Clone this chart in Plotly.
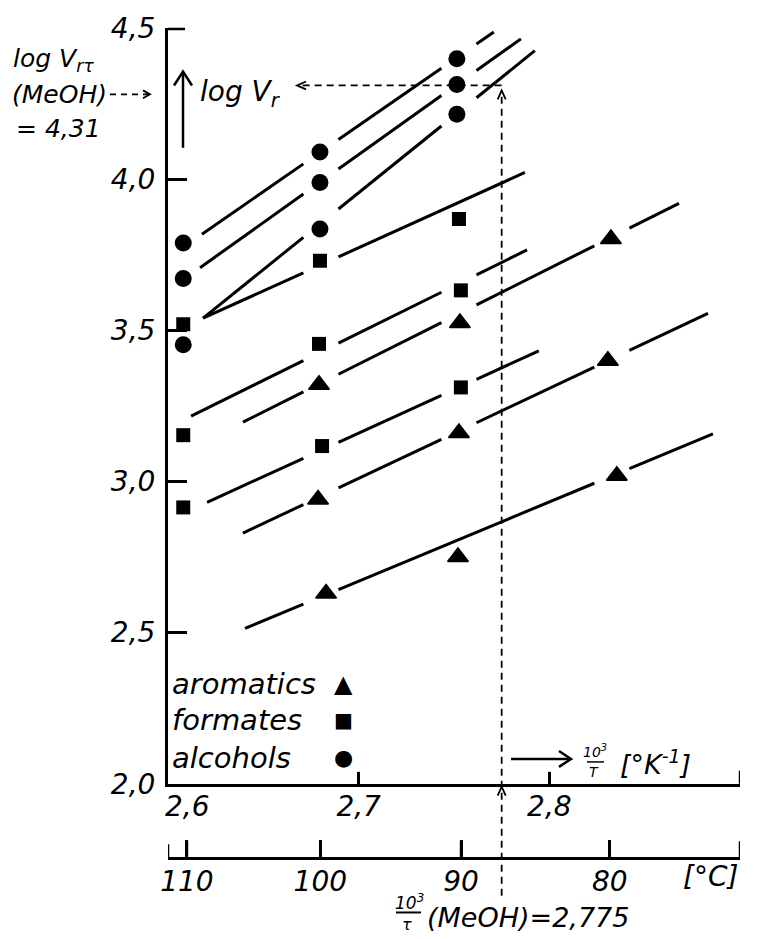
import plotly.graph_objects as go

# ---------------- data ----------------
x_ticks = [2.6, 2.7, 2.8, 2.9]                 # 10^3/T  [K^-1]
y_ticks = [2.0, 2.5, 3.0, 3.5, 4.0, 4.5]       # log Vr
temp_ticks_C = [110, 100, 90, 80]              # lower scale [°C]

# measured points (10^3/T , log Vr), one list per compound
arom_x = [[2.6792, 2.7531, 2.8323], [2.6787, 2.7526, 2.8307], [2.6829, 2.7521, 2.8354]]
arom_y = [[3.320, 3.524, 3.802], [2.940, 3.160, 3.399], [2.629, 2.750, 3.019]]

form_x = [[2.608, 2.6797, 2.7526], [2.608, 2.6792, 2.7536], [2.608, 2.6808, 2.7536]]
form_y = [[3.520, 3.730, 3.868], [3.153, 3.455, 3.632], [2.914, 3.117, 3.311]]

alc_x = [[2.608, 2.6797, 2.7515], [2.608, 2.6797, 2.7515], [2.608, 2.6797, 2.7515]]
alc_y = [[3.789, 4.090, 4.398], [3.671, 3.989, 4.313], [3.452, 3.835, 4.215]]

# straight lines drawn through the points (start / end)
fit_x0 = [2.6178, 2.6168, 2.6184, 2.6184, 2.6121, 2.6205, 2.6393, 2.6393, 2.6404]
fit_y0 = [3.818, 3.707, 3.540, 3.540, 3.216, 2.931, 3.196, 2.829, 2.514]
fit_x1 = [2.7709, 2.7851, 2.7924, 2.7872, 2.7883, 2.7945, 2.8680, 2.8832, 2.8858]
fit_y1 = [4.487, 4.464, 4.425, 4.022, 3.766, 3.432, 3.920, 3.556, 3.157]
# columns where each line is interrupted (index into break_cols)
break_cols = [2.6802, 2.7526, 2.8328]
fit_breaks = [[0, 1], [0, 1], [0, 1], [0], [0, 1], [0, 1], [0, 1, 2], [0, 1, 2], [0, 2]]

# methanol reference
meoh_x = 2.775
meoh_logV = 4.31

# ---------------- geometry helpers ----------------
L, T, W, H = 168, 20, 572, 838
FIG_W, FIG_H = 760, 939
YDOM0 = (T + H - 783) / H


def PX(x):
    return (x - L) / W


def PY(y):
    return (T + H - y) / H


def dx2paper(v):
    return (v - x_ticks[0]) / (x_ticks[-1] - x_ticks[0])


def dy2paper(v):
    return YDOM0 + (v - y_ticks[0]) / (y_ticks[-1] - y_ticks[0]) * (1 - YDOM0)


def lab(v, nd=1):
    return f"{v:.{nd}f}".replace('.', ',')


FONT = "DejaVu Sans"
fig = go.Figure()

# ---------------- lines with gaps ----------------
HW = 0.0092
for i in range(len(fit_x0)):
    x0, y0, x1, y1 = fit_x0[i], fit_y0[i], fit_x1[i], fit_y1[i]
    k = (y1 - y0) / (x1 - x0)
    xs = [x0]
    for b in fit_breaks[i]:
        c = break_cols[b]
        xs += [c - HW, None, c + HW]
    xs.append(x1)
    ys = [None if x is None else y0 + k * (x - x0) for x in xs]
    fig.add_trace(go.Scatter(x=xs, y=ys, mode='lines', connectgaps=False,
                             line=dict(color='black', width=3),
                             hoverinfo='skip', showlegend=False))

# ---------------- markers ----------------
def flat(a):
    return [v for row in a for v in row]


fig.add_trace(go.Scatter(x=flat(arom_x), y=flat(arom_y), mode='markers', name='aromatics',
                         marker=dict(symbol='triangle-up', size=18, color='black',
                                     line=dict(color='black', width=1.5)),
                         hoverinfo='skip', showlegend=False))
fig.add_trace(go.Scatter(x=flat(form_x), y=flat(form_y), mode='markers', name='formates',
                         marker=dict(symbol='square', size=14, color='black'),
                         hoverinfo='skip', showlegend=False))
fig.add_trace(go.Scatter(x=flat(alc_x), y=flat(alc_y), mode='markers', name='alcohols',
                         marker=dict(symbol='circle', size=17, color='black'),
                         hoverinfo='skip', showlegend=False))

# trace on the temperature axis so that it is drawn
temp_x = [1000.0 / (t + 273.15) for t in temp_ticks_C]
fig.add_trace(go.Scatter(x=temp_x, y=[None] * len(temp_x), xaxis='x2', yaxis='y',
                         mode='markers', marker=dict(opacity=0), hoverinfo='skip',
                         showlegend=False))

# ---------------- shapes ----------------
shapes = []


def seg(x0, y0, x1, y1, w=2, dash=None, xref='paper', yref='paper'):
    d = dict(type='line', xref=xref, yref=yref, x0=x0, y0=y0, x1=x1, y1=y1,
             line=dict(color='black', width=w))
    if dash:
        d['line']['dash'] = dash
    shapes.append(d)


def chev(tx, ty, direction, ln=9, half=5, w=2):
    # tx, ty in pixels
    if direction == 'up':
        a, b = (tx - half, ty + ln), (tx + half, ty + ln)
    elif direction == 'left':
        a, b = (tx + ln, ty - half), (tx + ln, ty + half)
    else:  # right
        a, b = (tx - ln, ty - half), (tx - ln, ty + half)
    path = f"M {PX(a[0])},{PY(a[1])} L {PX(tx)},{PY(ty)} L {PX(b[0])},{PY(b[1])}"
    shapes.append(dict(type='path', xref='paper', yref='paper', path=path,
                       line=dict(color='black', width=w)))


# tick marks of the three scales, pointing into the plot
TW = 2.5
for v in y_ticks[1:-1]:
    seg(0, v, 19 / W, v, w=TW, yref='y')
seg(0, 1 - 1 / H, 17 / W, 1 - 1 / H, w=TW)                         # 4,5 cap
for v in x_ticks[1:-1]:
    seg(v, YDOM0, v, YDOM0 + 12 / H, w=TW, xref='x')
seg(x_ticks[-1], YDOM0, x_ticks[-1], YDOM0 + 13 / H, w=TW, xref='x')  # 2,9 cap
for v in temp_x:
    seg(v, 0, v, 17 / H, w=TW, xref='x')
seg(x_ticks[0], 0, x_ticks[0], 14 / H, w=TW, xref='x')
seg(x_ticks[-1], 0, x_ticks[-1], 17 / H, w=TW, xref='x')

DASH = '7px,5px'
xm = dx2paper(meoh_x)
ym = dy2paper(meoh_logV)
ym_px = T + H - ym * H
xm_px = L + xm * W
# vertical dashed from below the °C scale to the lines
seg(xm, PY(896), xm, ym - 5 / H, w=1.8, dash=DASH)
chev(xm_px, ym_px + 5, 'up', ln=9, half=4, w=1.8)
chev(xm_px, 786, 'up', ln=9, half=4, w=1.8)
# horizontal dashed to the log Vr label
seg(xm, ym, PX(298), ym, w=1.8, dash=DASH)
chev(297, ym_px, 'left', ln=9, half=4, w=1.8)
# (MeOH) - - ->
seg(PX(110), PY(87), PX(149), PY(87), w=1.8, dash='6px,5px')
chev(150, 87, 'right', ln=7, half=4, w=1.8)
# up arrow next to log Vr
seg(PX(183), PY(141), PX(183), PY(65), w=2.5)
chev(183, 64, 'up', ln=14, half=9, w=2.5)
# right arrow next to 10^3/T
seg(PX(511), PY(758), PX(570), PY(758), w=2.5)
chev(571, 758, 'right', ln=12, half=8, w=2.5)
# fraction bars
seg(PX(587), PY(761), PX(604), PY(761), w=1.5)
seg(PX(396), PY(913), PX(421), PY(913), w=2)

# ---------------- annotations ----------------
ann = []


def txt(s, x, y, size=27, xa='left', style='italic'):
    ann.append(dict(text=s, x=PX(x), y=PY(y), xref='paper', yref='paper',
                    xanchor=xa, yanchor='middle', showarrow=False,
                    font=dict(family=FONT, size=size, color='black', style=style)))


txt("log V<sub>r\u03c4</sub>", 11, 52, 25)
txt("(MeOH)", 10, 87, 25)
txt("= " + lab(meoh_logV, 2), 14, 121, 25)
txt("log V<sub>r</sub>", 198, 86, 28)

legend_names = ['aromatics', 'formates', 'alcohols']
legend_glyph = ['\u25b2', '\u25a0', '\u25cf']
legend_gsize = [24, 20, 22]
legend_py = [682, 719, 757]
for n, g, gs, y in zip(legend_names, legend_glyph, legend_gsize, legend_py):
    txt(n, 170, y, 29)
    txt(g, 343, y, gs, xa='center', style='normal')

# first label of the 10^3/T scale sits right of the corner
txt(lab(x_ticks[0]), 187, 806, 28, xa='center')
txt("10<sup>3</sup>", 595, 750, 14, xa='center')
txt("T", 594, 771, 14, xa='center')
txt("[°K<sup>-1</sup>]", 618, 762, 27)
txt("[°C]", 710, 877, 28, xa='center')
txt("10<sup>3</sup>", 409, 902, 17, xa='center')
txt("\u03c4", 407, 925, 16, xa='center')
txt("(MeOH)=" + lab(meoh_x, 3), 425, 918, 27)

# ---------------- layout ----------------
axis_common = dict(showgrid=False, zeroline=False, showline=True, linewidth=3,
                   linecolor='black', tickcolor='black', tickwidth=2.5,
                   ticks='inside')

fig.update_layout(
    width=FIG_W, height=FIG_H,
    margin=dict(l=L, r=FIG_W - L - W, t=T, b=FIG_H - T - H, pad=0),
    paper_bgcolor='white', plot_bgcolor='white',
    font=dict(family=FONT, size=28, color='black', style='italic'),
    showlegend=False, hovermode=False,
    xaxis=dict(range=[x_ticks[0], x_ticks[-1]], anchor='y', tickvals=x_ticks[1:],
               ticktext=[lab(v) for v in x_ticks[1:]], ticklen=12,
               ticklabelstandoff=-4, **axis_common),
    yaxis=dict(domain=[YDOM0, 1], range=[y_ticks[0], y_ticks[-1]], anchor='x',
               tickvals=y_ticks, ticktext=[lab(v) for v in y_ticks], ticklen=19,
               ticklabelstandoff=4, **axis_common),
    xaxis2=dict(range=[x_ticks[0], x_ticks[-1]], overlaying='x', anchor='free',
                position=0, side='bottom',
                tickvals=temp_x, ticktext=[str(t) for t in temp_ticks_C],
                ticklen=17, ticklabelstandoff=-3, **axis_common),
    shapes=shapes, annotations=ann,
)

fig.write_html("out.html")
